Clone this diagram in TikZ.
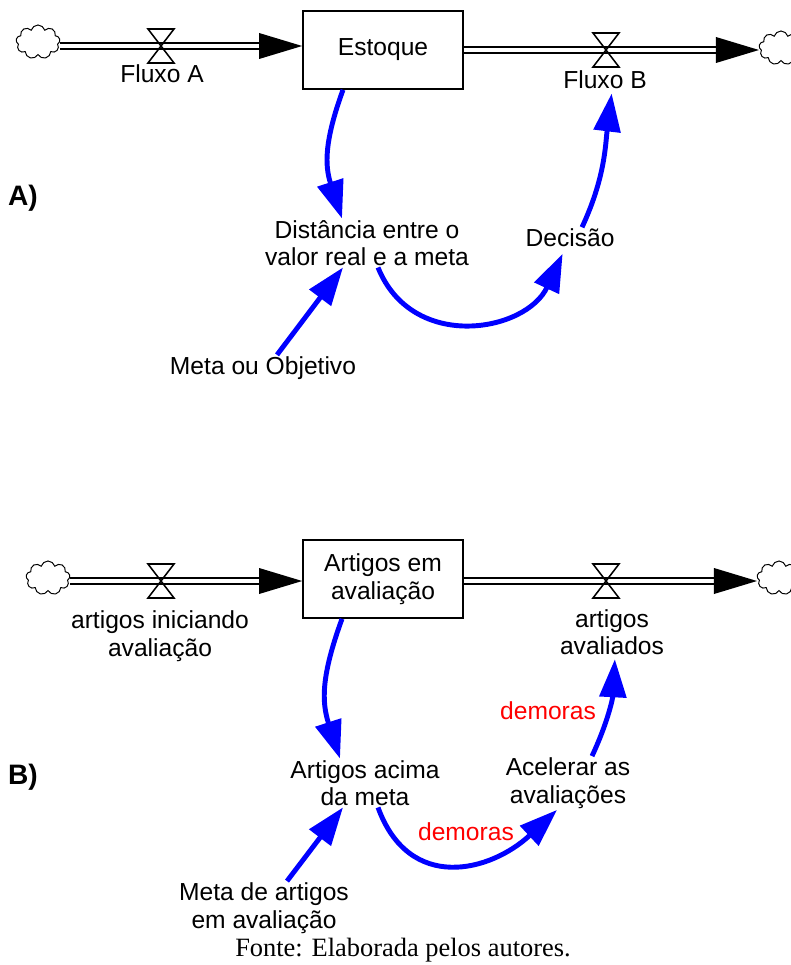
\documentclass[tikz,border=0pt]{standalone}
\usepackage{fontspec}
\setmainfont{Liberation Sans}
\newfontfamily\fonteserif{Liberation Serif}
\usetikzlibrary{arrows.meta,shapes.symbols,calc}

\tikzset{
  estoque/.style={draw, line width=1.2pt, minimum width=4cm, minimum height=1.95cm,
    align=center, font=\fontsize{17.5}{19.5}\selectfont},
  nuvem/.style={cloud, cloud puffs=9, draw, line width=0.7pt,
    minimum width=1.1cm, minimum height=0.85cm, inner sep=0pt},
  cano/.style={double, double distance=0.12cm, line width=1.1pt, shorten >=1.05cm},
  valvula/.style={line width=1.1pt},
  rotulo/.style={align=center, inner sep=1pt, font=\fontsize{17.5}{19.5}\selectfont},
  ligacao/.style={blue, line width=3.5pt, -{Triangle[length=0.95cm,width=0.66cm]}},
  demora/.style={text=red, inner sep=1pt, font=\fontsize{17.5}{19.5}\selectfont},
  painel/.style={font=\bfseries\fontsize{20}{24}\selectfont}
}

\begin{document}
\begin{tikzpicture}[x=0.025cm, y=0.025cm]
    % page of 790 x 965 px, one px is 0.025cm
    \useasboundingbox (0,0) rectangle (790,-965);
    % half width and half height of a valve
    \pgfmathsetmacro{\vw}{13}
    \pgfmathsetmacro{\vh}{17}

    % ---------- A) ----------
    \node[painel] (labA) at (23,-198) {A)};
    \node[estoque] (stockA) at (383,-50) {Estoque};
    \node[nuvem] (cloudA1) at (38,-42) {};
    \node[nuvem] (cloudA2) at (781,-48) {};
    \coordinate (vA1) at (161,-46);
    \coordinate (vA2) at (606,-50);
    \draw[cano] (cloudA1.east |- vA1) -- (stockA.west |- vA1);
    \draw[cano] (stockA.east |- vA2) -- (cloudA2.west |- vA2);
    \fill (stockA.west |- vA1) -- ++(-43,13) -- ++(0,-26) -- cycle;
    \fill (cloudA2.west |- vA2) -- ++(-43,13) -- ++(0,-26) -- cycle;

    \node[rotulo] (fluxoA) at (162,-74) {Fluxo A};
    \node[rotulo] (fluxoB) at (605,-80) {Fluxo B};
    \node[rotulo] (dist) at (367,-243) {Distância entre o\\valor real e a meta};
    \node[rotulo] (decisao) at (570,-238) {Decisão};
    \node[rotulo] (metaA) at (263,-368) {Meta ou Objetivo};

    \draw[ligacao] ([xshift=-1cm]stockA.south)
      to[out=250,in=108,looseness=1.1] ([xshift=-0.625cm]dist.north);
    \draw[ligacao, shorten >=4pt] ([xshift=0.275cm]dist.south)
      to[out=-68,in=245,looseness=1.25] ([xshift=-0.125cm]decisao.south);
    \draw[ligacao, shorten >=2pt] ([xshift=0.3cm]decisao.north)
      to[out=65,in=263] ([xshift=0.175cm]fluxoB.south);
    \draw[ligacao] ([xshift=0.35cm]metaA.north) -- ([xshift=-0.6cm]dist.south);

    % ---------- B) ----------
    \node[painel] (labB) at (23,-777) {B)};
    \node[estoque] (stockB) at (383,-579) {Artigos em\\avaliação};
    \node[nuvem] (cloudB1) at (48,-578) {};
    \node[nuvem] (cloudB2) at (779,-578) {};
    \coordinate (vB1) at (161,-581);
    \coordinate (vB2) at (606,-581);
    \draw[cano] (cloudB1.east |- vB1) -- (stockB.west |- vB1);
    \draw[cano] (stockB.east |- vB2) -- (cloudB2.west |- vB2);
    \fill (stockB.west |- vB1) -- ++(-43,13) -- ++(0,-26) -- cycle;
    \fill (cloudB2.west |- vB2) -- ++(-43,13) -- ++(0,-26) -- cycle;

    \node[rotulo] (iniciando) at (160,-636) {artigos iniciando\\avaliação};
    \node[rotulo] (avaliados) at (612,-632) {artigos\\avaliados};
    \node[rotulo] (acima) at (365,-783) {Artigos acima\\da meta};
    \node[rotulo] (acelerar) at (568,-783) {Acelerar as\\avaliações};
    \node[rotulo] (metaB) at (264,-908) {Meta de artigos\\em avaliação};
    \node[demora] (demora1) at (548,-711) {demoras};
    \node[demora] (demora2) at (466,-832) {demoras};

    \draw[ligacao] ([xshift=-1.025cm]stockB.south)
      to[out=250,in=108,looseness=1.1] ([xshift=-0.625cm]acima.north);
    \draw[ligacao] ([xshift=0.325cm]acima.south)
      to[out=-70,in=223,looseness=1.3] ([xshift=-0.275cm]acelerar.south);
    \draw[ligacao, shorten >=2pt] ([xshift=0.6cm]acelerar.north)
      to[out=65,in=267] ([xshift=0.075cm]avaliados.south);
    \draw[ligacao] ([xshift=0.575cm]metaB.north) -- ([xshift=-0.55cm]acima.south);

    % valves on the four flows
    \foreach \v in {vA1,vA2,vB1,vB2}
      \draw[valvula] ($(\v)+(-\vw,\vh)$) -- ++(2*\vw,0) -- ++(-2*\vw,-2*\vh)
        -- ++(2*\vw,0) -- cycle;

    \node[font=\fonteserif\fontsize{18.8}{22}\selectfont] (fonte) at (403,-950)
      {Fonte: Elaborada pelos autores.};
\end{tikzpicture}
\end{document}
